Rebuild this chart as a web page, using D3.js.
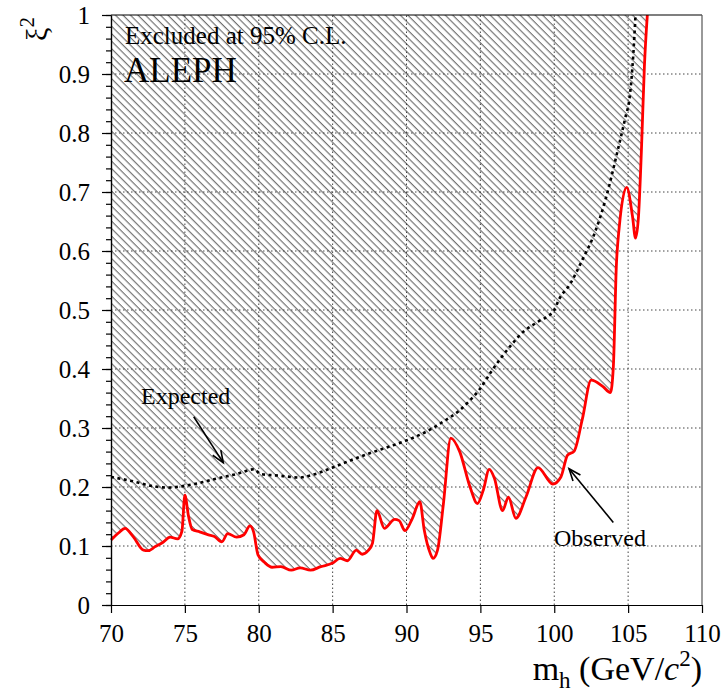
<!DOCTYPE html>
<html>
<head>
<meta charset="utf-8">
<script src="https://cdn.jsdelivr.net/npm/d3@7"></script>
<style>
  body { margin: 0; background: #fff; }
</style>
</head>
<body>
<script>
const w = 724;
const h = 700;

// observed limit (red)
const massObs = [70.0, 70.5, 70.95, 71.5, 72.2, 72.5, 73.0, 73.5, 74.0, 74.5, 74.8, 75.0, 75.25, 75.5, 76.0, 76.6, 77.0, 77.5, 77.9, 78.5, 79.0, 79.4,
  79.65, 79.95, 80.4, 80.9, 81.5, 82.2, 82.8, 83.5, 84.2, 85.0, 85.5, 86.0, 86.6, 87.0, 87.4, 87.7, 88.0, 88.5, 89.2, 89.5, 89.9,
  90.4, 90.9, 91.2, 91.6, 91.8, 92.1, 92.5, 93.0, 93.6, 94.3, 94.8, 95.2, 95.6, 95.95, 96.5, 96.9, 97.4, 98.1, 98.9, 99.9, 100.45,
  100.9, 101.35, 101.9, 102.5, 103.3, 103.8, 104.0, 104.2, 104.4, 104.9, 105.3, 105.5, 105.7, 105.9, 106.1, 106.3];
const xiObs = [0.110, 0.122, 0.130, 0.116, 0.093, 0.092, 0.099, 0.106, 0.115, 0.112, 0.125, 0.186, 0.150, 0.128, 0.124, 0.119, 0.116, 0.107, 0.121, 0.115, 0.119, 0.134,
  0.124, 0.085, 0.072, 0.064, 0.065, 0.059, 0.063, 0.059, 0.065, 0.071, 0.079, 0.075, 0.093, 0.086, 0.092, 0.105, 0.160, 0.130, 0.145, 0.143, 0.126,
  0.147, 0.175, 0.127, 0.088, 0.079, 0.093, 0.172, 0.283, 0.260, 0.200, 0.172, 0.195, 0.230, 0.215, 0.160, 0.183, 0.147, 0.184, 0.233, 0.205, 0.217,
  0.254, 0.261, 0.315, 0.381, 0.370, 0.360, 0.404, 0.573, 0.641, 0.708, 0.658, 0.622, 0.658, 0.771, 0.912, 1.0];

// expected limit (black dotted)
const massExp = [70.0, 71.6, 72.7, 73.8, 75.0, 76.0, 77.1, 78.5, 79.7, 80.1, 81.5, 82.7, 83.7, 85.0, 86.2, 87.6, 88.9, 90.0, 91.2, 92.5, 93.5,
  94.3, 94.9, 95.8, 97.0, 97.9, 98.9, 100.0, 100.3, 101.1, 101.9, 102.7, 103.5, 104.3, 104.8, 105.1, 105.35, 105.5];
const xiExp = [0.217, 0.209, 0.202, 0.199, 0.202, 0.207, 0.214, 0.222, 0.230, 0.222, 0.219, 0.216, 0.221, 0.233, 0.245, 0.258, 0.269, 0.279, 0.292, 0.311, 0.328,
  0.347, 0.364, 0.398, 0.438, 0.463, 0.480, 0.500, 0.517, 0.545, 0.585, 0.628, 0.690, 0.771, 0.825, 0.860, 0.933, 1.0];

const xTicks = [70, 75, 80, 85, 90, 95, 100, 105, 110];
const yTicks = [0, 0.1, 0.2, 0.3, 0.4, 0.5, 0.6, 0.7, 0.8, 0.9, 1];
const yMinor = d3.range(0, 1.001, 0.02);

const serif = "'Liberation Serif', 'Times New Roman', serif";

let svg = d3.select("body").append("svg").attr("width", w).attr("height", h)
  .style("font-family", serif);

let x = d3.scaleLinear().domain([70, 110]).range([111, 702]);
let y = d3.scaleLinear().domain([0, 1]).range([605, 15]);

// hatch pattern
let defs = svg.append("defs");
defs.append("pattern")
  .attr("id", "hatch")
  .attr("patternUnits", "userSpaceOnUse")
  .attr("width", 5.3)
  .attr("height", 10)
  .attr("patternTransform", "rotate(-45)")
  .append("line")
  .attr("x1", 2).attr("y1", 0)
  .attr("x2", 2).attr("y2", 10)
  .attr("stroke", "#111")
  .attr("stroke-width", 0.75);

const obs = massObs.map((m, i) => ({ m: m, v: xiObs[i] }));
const exp = massExp.map((m, i) => ({ m: m, v: xiExp[i] }));

// excluded region
svg.append("path")
  .datum(obs)
  .attr("fill", "url(#hatch)")
  .attr("d", d3.area()
    .x(d => x(d.m))
    .y0(d => y(d.v))
    .y1(y(1))
    .curve(d3.curveMonotoneX));

// grid
svg.append("g")
  .selectAll("line")
  .data(xTicks.slice(1, -1))
  .enter()
  .append("line")
  .attr("x1", d => x(d)).attr("x2", d => x(d))
  .attr("y1", y(0)).attr("y2", y(1))
  .attr("stroke", "#444")
  .attr("stroke-width", 1)
  .attr("stroke-dasharray", "1.5,2.5");

svg.append("g")
  .selectAll("line")
  .data(yTicks.slice(1, -1))
  .enter()
  .append("line")
  .attr("x1", x(70)).attr("x2", x(110))
  .attr("y1", d => y(d)).attr("y2", d => y(d))
  .attr("stroke", "#444")
  .attr("stroke-width", 1)
  .attr("stroke-dasharray", "1.5,2.5");

// expected
svg.append("path")
  .datum(exp)
  .attr("fill", "none")
  .attr("stroke", "#000")
  .attr("stroke-width", 2.6)
  .attr("stroke-dasharray", "3,3.5")
  .attr("d", d3.line().x(d => x(d.m)).y(d => y(d.v)).curve(d3.curveMonotoneX));

// observed
svg.append("path")
  .datum(obs)
  .attr("fill", "none")
  .attr("stroke", "#ff0000")
  .attr("stroke-width", 2.8)
  .attr("stroke-linejoin", "round")
  .attr("d", d3.line().x(d => x(d.m)).y(d => y(d.v)).curve(d3.curveMonotoneX));

// frame top/right
svg.append("line")
  .attr("x1", x(70)).attr("x2", x(110))
  .attr("y1", y(1)).attr("y2", y(1))
  .attr("stroke", "#000").attr("stroke-width", 1.2);
svg.append("line")
  .attr("x1", x(110)).attr("x2", x(110))
  .attr("y1", y(1)).attr("y2", y(0))
  .attr("stroke", "#555").attr("stroke-width", 1.2);

// axes
svg.append("g")
  .attr("transform", "translate(0," + y(0) + ")")
  .call(d3.axisBottom(x).tickValues(xTicks).tickSize(8).tickPadding(11).tickSizeOuter(0).tickFormat(d3.format("d")));

svg.append("g")
  .attr("transform", "translate(" + x(70) + ",0)")
  .call(d3.axisLeft(y).tickValues(yMinor).tickSize(5).tickSizeOuter(0).tickFormat(""));

svg.append("g")
  .attr("transform", "translate(" + x(70) + ",0)")
  .call(d3.axisLeft(y).tickValues(yTicks).tickSize(9).tickPadding(12).tickSizeOuter(0).tickFormat(d => d === 0 || d === 1 ? String(d) : d.toFixed(1)));

svg.selectAll("g").attr("font-family", null).attr("font-size", null);
svg.selectAll(".domain, .tick line").attr("stroke", "#000").attr("stroke-width", 1.2);
svg.selectAll(".tick text")
  .attr("font-family", "Liberation Serif")
  .style("font-family", serif)
  .style("font-size", "25px")
  .attr("fill", "#000");

// titles
let xt = svg.append("text")
  .attr("x", 702)
  .attr("y", 680)
  .attr("text-anchor", "end")
  .style("font-size", "34px");
xt.append("tspan").text("m");
xt.append("tspan").style("font-size", "23px").attr("dy", 8).text("h");
xt.append("tspan").attr("dy", -8).text(" (GeV/");
xt.append("tspan").style("font-style", "italic").text("c");
xt.append("tspan").style("font-size", "23px").attr("dy", -14).text("2");
xt.append("tspan").attr("dy", 14).text(")");

let yt = svg.append("text")
  .attr("transform", "translate(47,17) rotate(-90)")
  .attr("text-anchor", "end")
  .style("font-size", "30px");
yt.append("tspan").text("ξ");
yt.append("tspan").style("font-size", "21px").attr("dy", -13).text("2");

// labels
svg.append("text")
  .attr("x", 125).attr("y", 44)
  .style("font-size", "25px")
  .text("Excluded at 95% C.L.");

svg.append("text")
  .attr("x", 124).attr("y", 82)
  .style("font-size", "35px")
  .text("ALEPH");

svg.append("text")
  .attr("x", 141).attr("y", 404)
  .style("font-size", "24px")
  .text("Expected");

svg.append("text")
  .attr("x", 554).attr("y", 546)
  .style("font-size", "24px")
  .text("Observed");

// arrows
function arrow(x1, y1, x2, y2) {
  let a = Math.atan2(y2 - y1, x2 - x1);
  let L = 13, s = 0.38;
  svg.append("line")
    .attr("x1", x1).attr("y1", y1).attr("x2", x2).attr("y2", y2)
    .attr("stroke", "#000").attr("stroke-width", 1.6);
  svg.append("path")
    .attr("d", "M" + (x2 - L * Math.cos(a - s)) + "," + (y2 - L * Math.sin(a - s)) +
      "L" + x2 + "," + y2 +
      "L" + (x2 - L * Math.cos(a + s)) + "," + (y2 - L * Math.sin(a + s)))
    .attr("fill", "none").attr("stroke", "#000").attr("stroke-width", 1.6);
}
arrow(x(75.6), y(0.319), x(77.6), y(0.241));
arrow(x(104.0), y(0.14), x(101.0), y(0.231));
</script>
</body>
</html>
